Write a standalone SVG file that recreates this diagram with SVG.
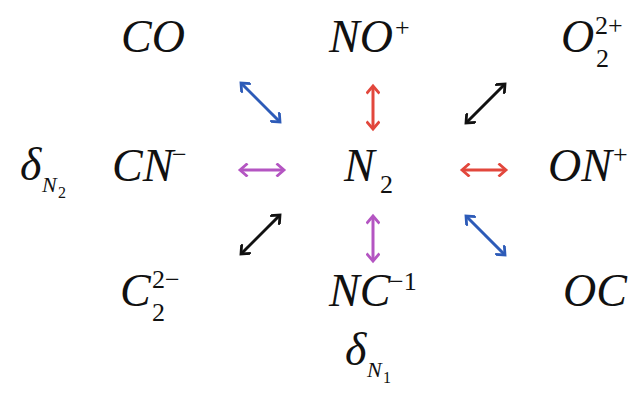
<svg xmlns="http://www.w3.org/2000/svg" width="631" height="397" viewBox="0 0 631 397">
<style>
.t{font-family:"Liberation Serif","Times New Roman",serif;font-style:italic;font-size:46px;fill:#111}
.s{font-family:"Liberation Serif","Times New Roman",serif;font-style:normal;font-size:26px;fill:#111}
.si{font-family:"Liberation Serif","Times New Roman",serif;font-style:italic;font-size:22px;fill:#111}
.a{fill:none;stroke-width:3}
</style>
<defs>
<marker id="mb" viewBox="0 0 14 14" refX="11" refY="7" markerWidth="14" markerHeight="14" markerUnits="userSpaceOnUse" orient="auto-start-reverse"><path d="M3.5 0.5 L11 7 L3.5 13.5" fill="none" stroke="#2d5bb8" stroke-width="2.8"/></marker>
<marker id="mr" viewBox="0 0 14 14" refX="11" refY="7" markerWidth="14" markerHeight="14" markerUnits="userSpaceOnUse" orient="auto-start-reverse"><path d="M3.5 0.5 L11 7 L3.5 13.5" fill="none" stroke="#e2473c" stroke-width="2.8"/></marker>
<marker id="mk" viewBox="0 0 14 14" refX="11" refY="7" markerWidth="14" markerHeight="14" markerUnits="userSpaceOnUse" orient="auto-start-reverse"><path d="M3.5 0.5 L11 7 L3.5 13.5" fill="none" stroke="#111" stroke-width="2.8"/></marker>
<marker id="mp" viewBox="0 0 14 14" refX="11" refY="7" markerWidth="14" markerHeight="14" markerUnits="userSpaceOnUse" orient="auto-start-reverse"><path d="M3.5 0.5 L11 7 L3.5 13.5" fill="none" stroke="#b455c2" stroke-width="2.8"/></marker>
</defs>
<rect width="631" height="397" fill="#fff"/>
<g id="CO"><text class="t" x="121" y="52">CO</text></g>
<g id="NOplus"><text class="t" x="329" y="52">NO</text><text class="s" x="395" y="36">+</text></g>
<g id="O2"><text class="t" x="561" y="52">O</text><text class="s" x="596" y="67">2</text><text class="s" x="595" y="34">2+</text></g>
<g id="deltaN2"><text class="t" x="20" y="180">δ</text><text class="si" x="42" y="192">N</text><text class="s" x="58" y="198" style="font-size:16px">2</text></g>
<g id="CNminus"><text class="t" x="112" y="181">CN</text><text class="s" x="172" y="163">−</text></g>
<g id="N2"><text class="t" x="344" y="181">N</text><text class="s" x="380" y="193">2</text></g>
<g id="ONplus"><text class="t" x="548" y="181">ON</text><text class="s" x="613" y="163">+</text></g>
<g id="C2"><text class="t" x="120" y="306">C</text><text class="s" x="152" y="321">2</text><text class="s" x="152" y="288">2−</text></g>
<g id="NCminus1"><text class="t" x="329" y="306">NC</text><text class="s" x="389" y="290">−1</text></g>
<g id="OC"><text class="t" x="563" y="306">OC</text></g>
<g id="deltaN1"><text class="t" x="345" y="365">δ</text><text class="si" x="367" y="377">N</text><text class="s" x="383" y="383" style="font-size:16px">1</text></g>
<g id="connectors">
<line class="a" x1="241" y1="83" x2="280" y2="122" stroke="#2d5bb8" marker-start="url(#mb)" marker-end="url(#mb)"/>
<line class="a" x1="373" y1="86" x2="373" y2="129" stroke="#e2473c" marker-start="url(#mr)" marker-end="url(#mr)"/>
<line class="a" x1="466" y1="123" x2="505" y2="84" stroke="#111" marker-start="url(#mk)" marker-end="url(#mk)"/>
<line class="a" x1="240" y1="170" x2="284" y2="170" stroke="#b455c2" marker-start="url(#mp)" marker-end="url(#mp)"/>
<line class="a" x1="462" y1="170" x2="506" y2="170" stroke="#e2473c" marker-start="url(#mr)" marker-end="url(#mr)"/>
<line class="a" x1="241" y1="254" x2="280" y2="215" stroke="#111" marker-start="url(#mk)" marker-end="url(#mk)"/>
<line class="a" x1="373" y1="216" x2="373" y2="261" stroke="#b455c2" marker-start="url(#mp)" marker-end="url(#mp)"/>
<line class="a" x1="466" y1="216" x2="505" y2="255" stroke="#2d5bb8" marker-start="url(#mb)" marker-end="url(#mb)"/>
</g>
</svg>
